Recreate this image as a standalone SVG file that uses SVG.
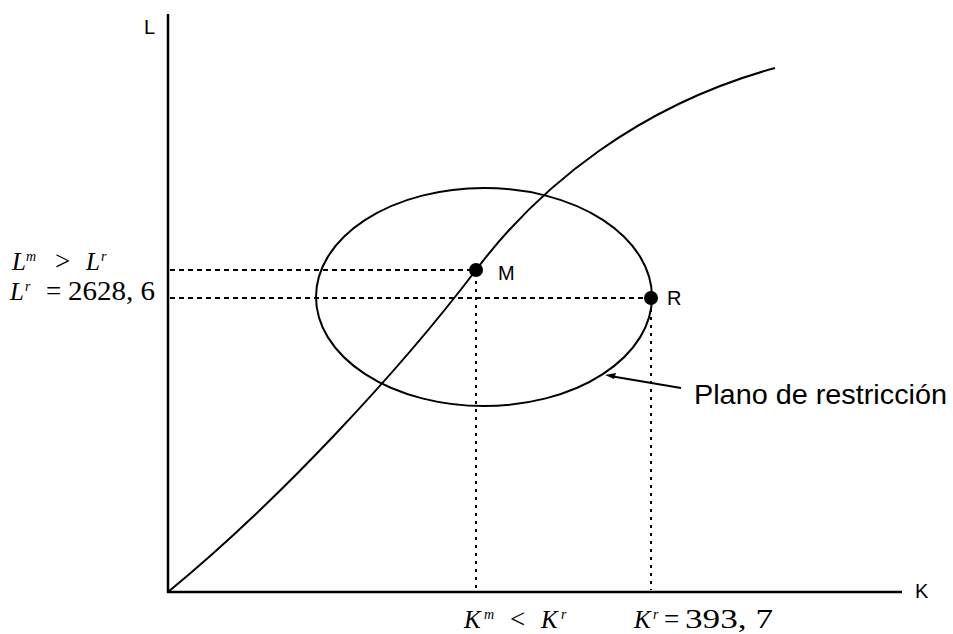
<svg xmlns="http://www.w3.org/2000/svg" width="953" height="634" viewBox="0 0 953 634">
<style>
.ax{stroke:#000;stroke-width:2.5;fill:none}
.ln{stroke:#000;stroke-width:2;fill:none}
.dash{stroke:#000;stroke-width:2;stroke-dasharray:5,4;fill:none}
.dot{stroke:#000;stroke-width:2;stroke-dasharray:3,5;fill:none}
.sans{font-family:"Liberation Sans",Arial,sans-serif;fill:#000}
.it{font-family:"Liberation Serif","Times New Roman",serif;font-style:italic;fill:#000;font-size:25px}
.sup{font-family:"Liberation Serif","Times New Roman",serif;font-style:italic;fill:#000;font-size:14px}
.up{font-family:"Liberation Serif","Times New Roman",serif;fill:#000;font-size:27px}
</style>
<rect width="953" height="634" fill="#fff"/>
<g id="axes">
<line class="ax" x1="168" y1="14" x2="168" y2="593"/>
<line class="ax" x1="167" y1="592" x2="902" y2="592"/>
<text class="sans" x="144" y="34" font-size="20">L</text>
<text class="sans" x="915" y="598" font-size="20">K</text>
</g>
<g id="connectors">
<line class="dash" x1="170" y1="270" x2="474" y2="270"/>
<line class="dash" x1="170" y1="298" x2="649" y2="298"/>
<line class="dot" x1="476" y1="273" x2="476" y2="590"/>
<line class="dot" x1="651" y1="301" x2="651" y2="590"/>
<path class="ln" d="M168,592 C280,500 400,370 476,270 C540,185 640,105 775,68"/>
<line class="ln" x1="681" y1="388" x2="610" y2="376" stroke-width="1.5"/>
<path d="M605,375 L616,373 L614,379 Z" fill="#000"/>
</g>
<g id="ellipse">
<ellipse class="ln" cx="484" cy="297" rx="168" ry="109"/>
<text class="sans" x="694" y="404" font-size="28" textLength="253" lengthAdjust="spacingAndGlyphs">Plano de restricción</text>
</g>
<g id="M">
<circle cx="476" cy="270" r="7" fill="#000"/>
<text class="sans" x="498" y="280" font-size="20">M</text>
</g>
<g id="R">
<circle cx="651" cy="298" r="7" fill="#000"/>
<text class="sans" x="667" y="305" font-size="20">R</text>
</g>
<g id="labels">
<text class="it" x="12" y="270">L</text><text class="sup" x="26" y="261">m</text>
<text class="up" x="55" y="270">&gt;</text>
<text class="it" x="86" y="270">L</text><text class="sup" x="101" y="261">r</text>
<text class="it" x="10" y="300">L</text><text class="sup" x="25" y="291">r</text>
<text class="up" x="46" y="300">=</text>
<text class="up" x="68" y="300" textLength="87" lengthAdjust="spacingAndGlyphs">2628, 6</text>
<text class="it" x="464" y="628">K</text><text class="sup" x="484" y="619">m</text>
<text class="up" x="510" y="628">&lt;</text>
<text class="it" x="541" y="628">K</text><text class="sup" x="561" y="619">r</text>
<text class="it" x="634" y="628">K</text><text class="sup" x="653" y="619">r</text>
<text class="up" x="664" y="628">=</text>
<text class="up" x="685" y="628" textLength="88" lengthAdjust="spacingAndGlyphs">393, 7</text>
</g>
</svg>
